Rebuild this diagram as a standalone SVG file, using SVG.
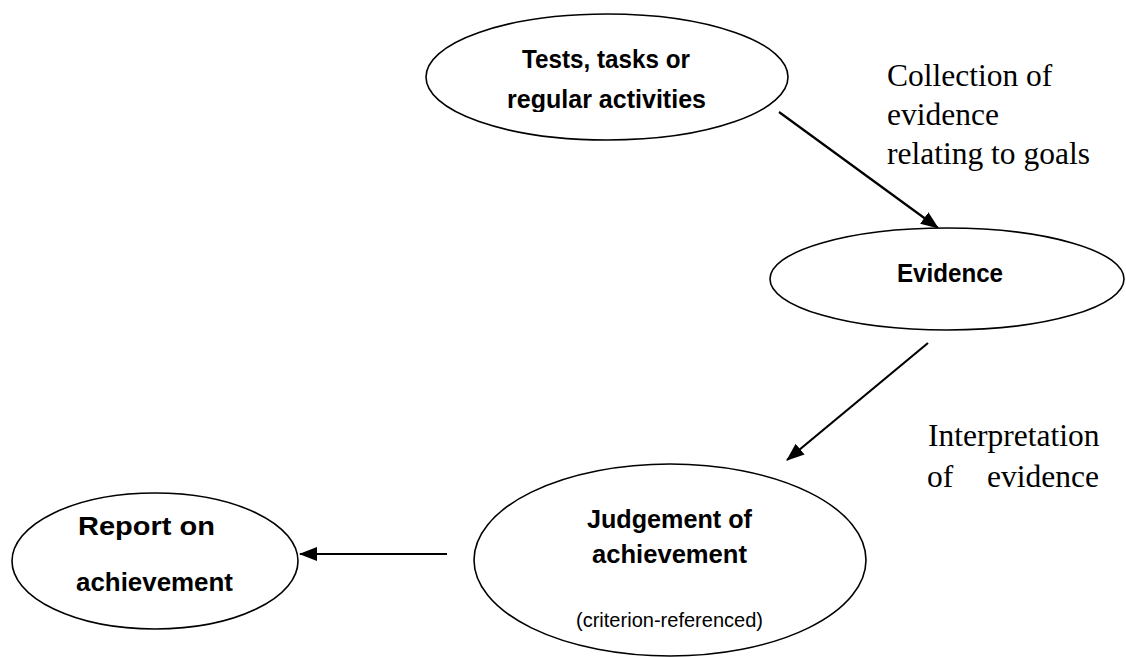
<svg xmlns="http://www.w3.org/2000/svg" width="1126" height="657" viewBox="0 0 1126 657">
<style>
.node{fill:#fff;stroke:#000;stroke-width:1.6}
.bt{font-family:"Liberation Sans",Arial,sans-serif;font-weight:bold;font-size:26px;fill:#000;text-anchor:middle}
.st{font-family:"Liberation Sans",Arial,sans-serif;font-size:19.5px;fill:#000;text-anchor:middle}
.lbl{font-family:"Liberation Serif","Times New Roman",serif;font-size:31.5px;fill:#000}
.edge{stroke:#000;stroke-width:2.2;fill:none}
</style>
<defs>
<marker id="ah" viewBox="0 0 18 14" refX="17" refY="7" markerWidth="18" markerHeight="14" markerUnits="userSpaceOnUse" orient="auto">
<path d="M0,0 L18,7 L0,14 Z" fill="#000"/>
</marker>
<clipPath id="clipTop"><rect x="420" y="0" width="380" height="112"/></clipPath>
</defs>
<rect width="1126" height="657" fill="#fff"/>
<g id="connectors">
<line class="edge" x1="779" y1="112" x2="938" y2="228" marker-end="url(#ah)"/>
<line class="edge" x1="928" y1="343" x2="787" y2="460" marker-end="url(#ah)"/>
<line class="edge" x1="447" y1="554" x2="300" y2="554" marker-end="url(#ah)"/>
</g>
<g id="node-tests">
<ellipse class="node" cx="607" cy="77" rx="181" ry="63"/>
<g clip-path="url(#clipTop)">
<text class="bt" x="606" y="68" textLength="168" lengthAdjust="spacingAndGlyphs">Tests, tasks or</text>
<text class="bt" x="606.5" y="108" textLength="199" lengthAdjust="spacingAndGlyphs">regular activities</text>
</g>
</g>
<g id="node-evidence">
<ellipse class="node" cx="947" cy="279" rx="177" ry="51"/>
<text class="bt" x="950" y="282" textLength="106" lengthAdjust="spacingAndGlyphs">Evidence</text>
</g>
<g id="node-judgement">
<ellipse class="node" cx="670" cy="560" rx="196" ry="96"/>
<text class="bt" x="669.5" y="528" textLength="165" lengthAdjust="spacingAndGlyphs">Judgement of</text>
<text class="bt" x="669.5" y="563" textLength="155" lengthAdjust="spacingAndGlyphs">achievement</text>
<text class="st" x="669.5" y="627" textLength="187" lengthAdjust="spacingAndGlyphs">(criterion-referenced)</text>
</g>
<g id="node-report">
<ellipse class="node" cx="155" cy="561" rx="143" ry="68"/>
<text class="bt" x="146.5" y="535" textLength="137" lengthAdjust="spacingAndGlyphs">Report on</text>
<text class="bt" x="154.5" y="591" textLength="157" lengthAdjust="spacingAndGlyphs">achievement</text>
</g>
<g id="labels">
<text class="lbl" x="887" y="86">Collection of</text>
<text class="lbl" x="887" y="125">evidence</text>
<text class="lbl" x="887" y="164">relating to goals</text>
<text class="lbl" x="928" y="446">Interpretation</text>
<text class="lbl" x="927" y="487">of</text>
<text class="lbl" x="987" y="487">evidence</text>
</g>
</svg>
